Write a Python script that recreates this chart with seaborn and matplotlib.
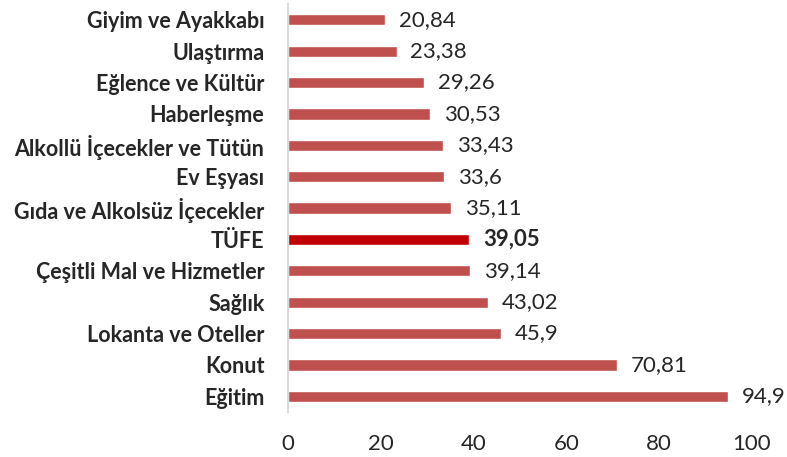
import pandas as pd
import numpy as np
import matplotlib.pyplot as plt
import seaborn as sns

categories = ['Giyim ve Ayakkabı', 'Ulaştırma', 'Eğlence ve Kültür', 'Haberleşme',
              'Alkollü İçecekler ve Tütün', 'Ev Eşyası', 'Gıda ve Alkolsüz İçecekler',
              'TÜFE', 'Çeşitli Mal ve Hizmetler', 'Sağlık', 'Lokanta ve Oteller',
              'Konut', 'Eğitim']
values = [20.84, 23.38, 29.26, 30.53, 33.43, 33.6, 35.11, 39.05, 39.14, 43.02, 45.9, 70.81, 94.9]
value_labels = ['20,84', '23,38', '29,26', '30,53', '33,43', '33,6', '35,11', '39,05',
                '39,14', '43,02', '45,9', '70,81', '94,9']
highlight = 'TÜFE'

df = pd.DataFrame({'kategori': categories, 'deger': values})

sns.set_style('white')
plt.rcParams['font.family'] = ['Lato', 'DejaVu Sans']

fig = plt.figure(figsize=(7.87, 4.57), dpi=100)
ax = fig.add_axes([0.366, 0.0985, 0.5895, 0.8925])

colors = ['#C00000' if c == highlight else '#C0504D' for c in categories]
sns.barplot(data=df, x='deger', y='kategori', hue='kategori', palette=colors,
            legend=False, width=0.36, ax=ax, saturation=1)

ax.set_xlim(0, 100)
ax.set_xticks(range(0, 101, 20))
ax.set_xlabel('')
ax.set_ylabel('')
for s in ['top', 'right', 'bottom']:
    ax.spines[s].set_visible(False)
ax.spines['left'].set_color('#D9D9D9')
ax.spines['left'].set_linewidth(1.5)
ax.tick_params(axis='both', length=0, labelsize=16)
ax.tick_params(axis='x', pad=16)
ax.tick_params(axis='y', pad=17)

for lbl in ax.get_yticklabels():
    lbl.set_fontweight('bold')
    lbl.set_fontsize(15.5)

for i, (v, t) in enumerate(zip(values, value_labels)):
    ax.text(v + 3, i, t, va='center', ha='left', fontsize=16,
            fontweight='bold' if categories[i] == highlight else 'normal')

fig.savefig('out.png', dpi=100)
